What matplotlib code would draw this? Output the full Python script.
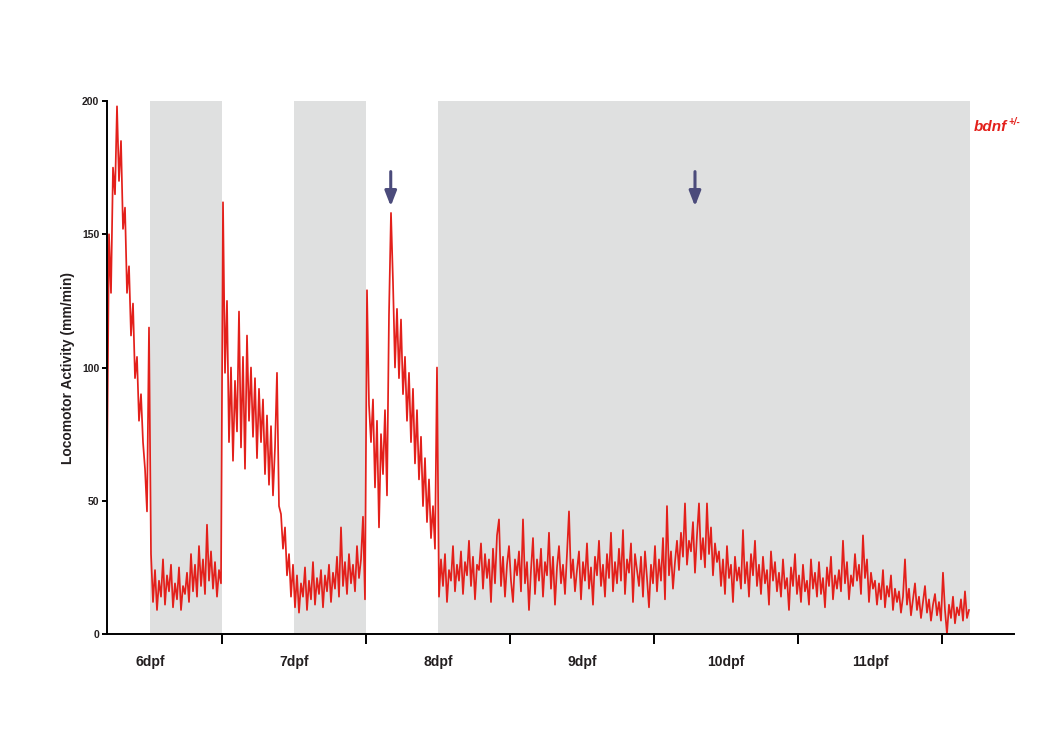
import numpy as np
import matplotlib
matplotlib.use("Agg")
from matplotlib import pyplot as plt

plt.rcParams['font.family'] = ['Liberation Sans', 'DejaVu Sans']

# activity in 20 min bins (mm/min)
start_hour = 4.83
bin_hours = 1.0 / 3.0

day6_light = [60, 150, 128, 175, 165, 198, 170, 185, 152, 160, 128, 138, 112, 124, 96, 104,
              80, 90, 72, 62, 46, 115]
day6_dark = [30, 12, 24, 9, 20, 14, 28, 11, 22, 16, 26, 10, 19, 13, 25, 9, 18, 15, 23, 12,
             30, 16, 26, 14, 33, 18, 28, 15, 41, 20, 31, 17, 27, 14, 24, 19]
day7_light = [162, 98, 125, 72, 100, 65, 95, 76, 121, 70, 104, 62, 112, 80, 100, 74, 96, 66,
              92, 72, 88, 60, 82, 56, 78, 52, 70, 98, 48, 45, 32, 40, 22, 30, 14, 26]
day7_dark = [10, 22, 8, 19, 14, 25, 9, 20, 13, 27, 11, 21, 15, 24, 10, 22, 16, 26, 12, 23,
             17, 29, 14, 40, 18, 27, 15, 30, 19, 26, 16, 33, 21, 28, 44, 13]
day8_light = [129, 86, 72, 88, 55, 80, 40, 75, 60, 84, 52, 120, 158, 132, 100, 122, 96, 118,
              90, 104, 80, 98, 72, 92, 64, 84, 58, 74, 48, 66, 42, 58, 36, 48, 32, 100]
constant_dark = [14, 28, 18, 30, 12, 24, 20, 33, 16, 26,
                 20, 31, 15, 27, 22, 35, 18, 29, 13, 26,
                 24, 34, 17, 30, 21, 28, 12, 32, 19, 37,
                 43, 18, 29, 14, 26, 33, 20, 12, 28, 22,
                 31, 16, 43, 19, 27, 9, 24, 36, 15, 28,
                 20, 32, 14, 27, 22, 38, 17, 29, 11, 25,
                 33, 19, 26, 15, 30, 46, 21, 28, 16, 24,
                 31, 13, 27, 20, 34, 17, 25, 11, 29, 22,
                 35, 18, 26, 14, 30, 21, 38, 16, 27, 19,
                 32, 20, 39, 15, 28, 23, 34, 12, 30, 24,
                 18, 29, 14, 31, 21, 10, 26, 19, 33, 16,
                 28, 20, 36, 13, 48, 22, 31, 17, 27, 35,
                 24, 38, 29, 49, 26, 35, 31, 42, 23, 37,
                 49, 28, 36, 25, 49, 30, 40, 22, 34, 27,
                 31, 18, 28, 15, 33, 21, 26, 12, 29, 20,
                 25, 17, 39, 19, 27, 14, 30, 22, 35, 18,
                 26, 15, 29, 19, 24, 11, 31, 20, 27, 16,
                 23, 14, 28, 17, 21, 9, 25, 18, 30, 15,
                 22, 12, 26, 16, 20, 11, 28, 17, 23, 14,
                 27, 15, 21, 10, 25, 18, 29, 13, 22, 17,
                 24, 16, 35, 19, 27, 13, 22, 18, 30, 20,
                 26, 15, 37, 21, 28, 12, 23, 17, 20, 11,
                 19, 13, 24, 10, 18, 14, 22, 9, 17, 12,
                 16, 8, 14, 28, 11, 17, 7, 13, 19, 9,
                 14, 6, 12, 18, 8, 13, 5, 11, 15, 7,
                 12, 5, 23, 9, 0, 11, 6, 14, 4, 10,
                 7, 13, 5, 16, 6, 9]

dark_periods = [(12, 24), (36, 48), (60, 148.67)]
day_labels = ["6dpf", "7dpf", "8dpf", "9dpf", "10dpf", "11dpf"]
arrow_hours = [52.12, 102.83]

activity = np.array(day6_light + day6_dark + day7_light + day7_dark + day8_light + constant_dark)
hours = start_hour + bin_hours * np.arange(len(activity))

ink = '#231f20'
fig = plt.figure(figsize=(10.44, 7.56), dpi=100)
ax = fig.add_axes([107 / 1044, 1 - 634 / 756, 907 / 1044, 533 / 756])

for a, b in dark_periods:
    ax.axvspan(a, b, color='#dfe0e0', lw=0, zorder=0)

ax.plot(hours, activity, color='#e3201b', lw=1.25, zorder=2)

for h in arrow_hours:
    ax.annotate('', xy=(h, 160.5), xytext=(h, 173.5),
                arrowprops=dict(arrowstyle='-|>,head_width=0.35,head_length=0.9',
                                color='#4b4b7b', lw=2.2, shrinkA=0, shrinkB=0))

ax.set_xlim(start_hour, 156)
ax.set_ylim(0, 200)

for side in ['top', 'right']:
    ax.spines[side].set_visible(False)
for side in ['left', 'bottom']:
    ax.spines[side].set_linewidth(1.4)
    ax.spines[side].set_color('black')

ax.set_yticks([0, 50, 100, 150, 200])
ax.tick_params(axis='y', direction='out', length=3.5, width=1.4, labelsize=7.5,
               labelcolor=ink, pad=2)
for lab in ax.get_yticklabels():
    lab.set_fontweight('bold')

ax.set_xticks([24, 48, 72, 96, 120, 144])
ax.set_xticklabels([])
ax.tick_params(axis='x', which='major', direction='out', length=7, width=1.4)
ax.set_xticks([12 + 24 * i for i in range(len(day_labels))], minor=True)
ax.set_xticklabels(day_labels, minor=True, fontsize=10, fontweight='bold', color=ink)
ax.tick_params(axis='x', which='minor', length=0, pad=15)

ax.set_ylabel("Locomotor Activity (mm/min)", fontsize=10, fontweight='bold', color=ink)
ax.yaxis.set_label_coords(-0.035, 0.5)

fig.text(974 / 1044, 1 - 131 / 756, "bdnf", color='#e3201b', fontsize=11,
         fontweight='bold', fontstyle='italic', va='baseline')
fig.text(1008 / 1044, 1 - 125 / 756, "+/-", color='#e3201b', fontsize=7,
         fontweight='bold', fontstyle='italic', va='baseline')

fig.savefig("out.png", dpi=100, facecolor='white')
